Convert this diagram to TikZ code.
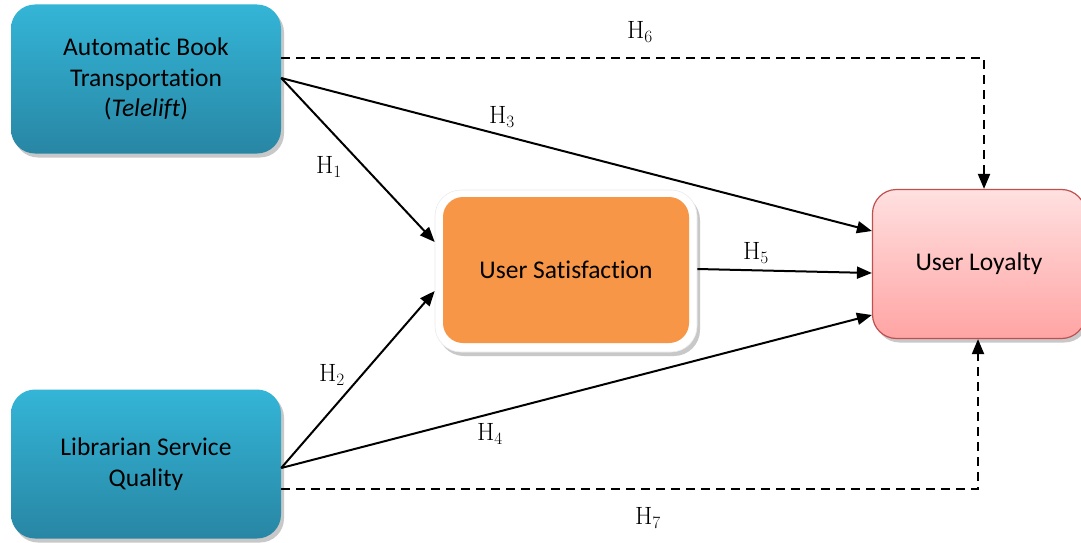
\documentclass[tikz,border=0pt]{standalone}
\usepackage{fontspec}
\setsansfont[Ligatures=NoCommon]{Carlito}
\usetikzlibrary{arrows.meta,shadows,calc}
\definecolor{tealtop}{RGB}{52,181,215}
\definecolor{tealbot}{RGB}{40,134,164}
\definecolor{pinktop}{RGB}{255,224,224}
\definecolor{pinkbot}{RGB}{255,164,164}
\definecolor{pinkedge}{RGB}{192,80,77}
\definecolor{orangefill}{RGB}{247,150,70}
\tikzset{
  boxtext/.style={font=\sffamily\fontsize{25.5}{30.5}\selectfont, align=center, text=black},
  softshadow/.style={drop shadow={shadow xshift=3pt, shadow yshift=-4pt, opacity=0.3, fill=black!70}},
  tealbox/.style={boxtext, rectangle, rounded corners=24pt, minimum width=270pt, minimum height=149pt,
    top color=tealtop, bottom color=tealbot, draw=none, softshadow},
  satouter/.style={rectangle, rounded corners=26pt, minimum width=262pt, minimum height=162pt,
    fill=white, draw=black!8, line width=0.6pt, softshadow},
  satinner/.style={boxtext, rectangle, rounded corners=20pt, minimum width=246pt, minimum height=146pt,
    fill=orangefill, draw=none},
  loybox/.style={boxtext, rectangle, rounded corners=24pt, minimum width=213pt, minimum height=149pt,
    top color=pinktop, bottom color=pinkbot, draw=pinkedge, line width=1.2pt, softshadow},
  conn/.style={line width=2pt, -{Triangle[length=15pt,width=12pt]}},
  dconn/.style={conn, dash pattern=on 9pt off 6pt},
  hlab/.style={font=\fontsize{25}{28}\selectfont, inner sep=0pt}
}
\begin{document}
\begin{tikzpicture}[x=1pt,y=-1pt]
\clip (0,0) rectangle (1081,543);
\fill[white] (0,0) rectangle (1081,543);

\node[tealbox] (abt) at (146,79) {Automatic Book\\Transportation\\(\textit{Telelift})};
\node[tealbox] (lsq) at (146,464) {Librarian Service\\Quality};
\node[satouter] (sat) at (566,271) {};
\node[satinner] (satin) at (566,270) {User Satisfaction};
\node[loybox] (loy) at (979,264) {User Loyalty};

% solid connectors
\draw[conn] ([yshift=1pt]abt.east) -- ([yshift=29pt]sat.west);
\draw[conn] ([yshift=1pt]abt.east) -- ([yshift=33pt]loy.west);
\draw[conn] ([yshift=-4pt]lsq.east) -- ([yshift=-20pt]sat.west);
\draw[conn] ([yshift=-4pt]lsq.east) -- ([yshift=-51pt]loy.west);
\draw[conn] ([yshift=2pt]sat.east) -- ([yshift=-9pt]loy.west);

% dashed connectors
\draw[dconn] ([yshift=21pt]abt.east) -| ([xshift=5pt]loy.north);
\draw[dconn] ([yshift=-25pt]lsq.east) -| ([xshift=-1pt]loy.south);

% labels
\node[hlab] (h1) at (329,167) {H$_1$};
\node[hlab] (h2) at (332,375) {H$_2$};
\node[hlab] (h3) at (502,117) {H$_3$};
\node[hlab] (h4) at (490,434) {H$_4$};
\node[hlab] (h5) at (756,253) {H$_5$};
\node[hlab] (h6) at (640,32) {H$_6$};
\node[hlab] (h7) at (648,518) {H$_7$};
\end{tikzpicture}
\end{document}
